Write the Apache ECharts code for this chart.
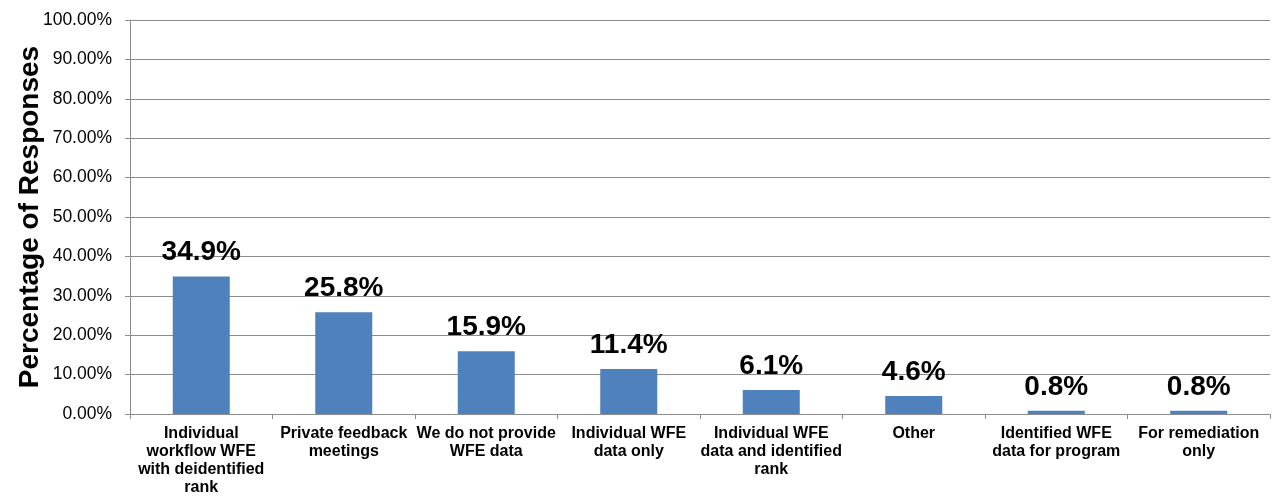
<!DOCTYPE html>
<html>
<head>
<meta charset="utf-8">
<script src="https://cdn.jsdelivr.net/npm/echarts@6/dist/echarts.min.js"></script>
<style>
  html, body { margin: 0; padding: 0; background: #fff; }
  #chart { width: 1272px; height: 496px; }
</style>
</head>
<body>
<div id="chart"></div>
<script>
// Survey responses: how WFE data is shared
const categories = [
  'Individual\nworkflow WFE\nwith deidentified\nrank',
  'Private feedback\nmeetings',
  'We do not provide\nWFE data',
  'Individual WFE\ndata only',
  'Individual WFE\ndata and identified\nrank',
  'Other',
  'Identified WFE\ndata for program',
  'For remediation\nonly'
];
const responsePct = [34.9, 25.8, 15.9, 11.4, 6.1, 4.6, 0.8, 0.8];
const yTicks = [0, 10, 20, 30, 40, 50, 60, 70, 80, 90, 100];

const font = 'Arial, "Liberation Sans", Helvetica, sans-serif';
const chart = echarts.init(document.getElementById('chart'));
chart.setOption({
  animation: false,
  grid: { left: 130, right: 2, top: 20, bottom: 82, containLabel: false, outerBoundsMode: 'none' },
  xAxis: {
    type: 'category',
    data: categories,
    axisLine: { lineStyle: { color: '#8c8c8c', width: 1 } },
    axisTick: { show: true, alignWithLabel: false, length: 5, lineStyle: { color: '#8c8c8c' } },
    axisLabel: {
      interval: 0, margin: 11, color: '#000', fontFamily: font,
      fontWeight: 'bold', fontSize: 16, lineHeight: 18
    }
  },
  yAxis: {
    type: 'value',
    min: yTicks[0], max: yTicks[yTicks.length - 1], interval: 10,
    name: 'Percentage of Responses',
    nameLocation: 'middle',
    nameGap: 86,
    nameMoveOverlap: false,
    nameTextStyle: { color: '#000', fontFamily: font, fontWeight: 'bold', fontSize: 28 },
    axisLine: { show: true, lineStyle: { color: '#8c8c8c', width: 1 } },
    axisTick: { show: true, length: 5, lineStyle: { color: '#8c8c8c' } },
    axisLabel: {
      margin: 18, color: '#000', fontFamily: font, fontSize: 17.5,
      formatter: v => v.toFixed(2) + '%'
    },
    splitLine: { show: true, lineStyle: { color: '#8c8c8c', width: 1 } }
  },
  series: [{
    type: 'bar',
    data: responsePct,
    barWidth: 57,
    itemStyle: { color: '#4f81bd' },
    label: {
      show: true, position: 'top', distance: 10,
      color: '#000', fontFamily: font, fontWeight: 'bold', fontSize: 28,
      formatter: p => p.value.toFixed(1) + '%'
    }
  }]
});
</script>
</body>
</html>
